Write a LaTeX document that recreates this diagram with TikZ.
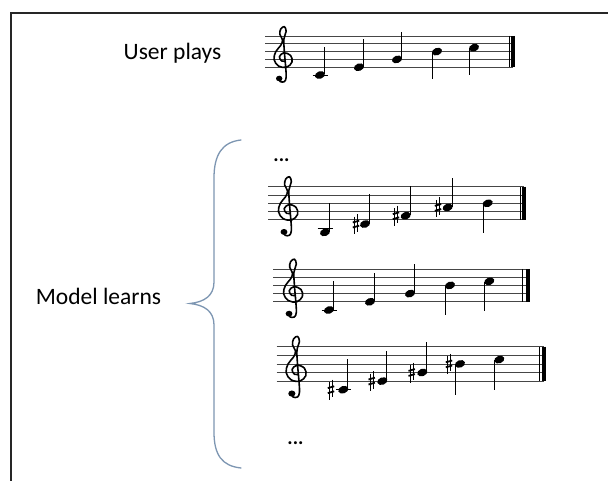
\documentclass[tikz,border=0pt]{standalone}
\usepackage{fontspec}
\setmainfont{Carlito}
\definecolor{bracecol}{RGB}{125,150,178}
\definecolor{stafflinecol}{RGB}{70,70,70}
\tikzset{
  staffline/.style={line width=0.8pt, stafflinecol},
  stemline/.style={line width=0.9pt, black},
  ledgerline/.style={line width=0.9pt, black},
  thinbar/.style={line width=0.9pt, black},
  thickbar/.style={line width=4pt, black},
  clefline/.style={line width=1.6pt, black, line cap=round, line join=round},
  sharpbar/.style={line width=1.8pt, black},
  sharpstem/.style={line width=0.6pt, black},
  txtlabel/.style={font=\fontsize{23.5}{28}\selectfont, inner sep=0pt, anchor=base},
  dotslabel/.style={font=\fontsize{20}{24}\selectfont\bfseries, inner sep=0pt, anchor=base},
  framestyle/.style={line width=1.5pt, black!85},
  bracestyle/.style={line width=1.3pt, bracecol, line cap=round},
}
% staff: top y, spacing, left x, thin bar x, thick bar x
\newcommand\stf[5]{%
  \pgfmathsetmacro\stT{#1}\pgfmathsetmacro\stS{#2}\pgfmathsetmacro\stB{#1+4*#2}%
  \pgfmathsetmacro\clx{1.15*#2}%
  \foreach \i in {0,...,4} \draw[staffline] (#3,{#1+\i*#2}) -- (#5,{#1+\i*#2});
  \draw[thinbar] (#4,#1) -- (#4,\stB);
  \draw[thickbar] (#5,#1) -- (#5,\stB);
}
\newcommand\nup[2]{%
  \fill[shift={(#1,{\stB-(#2)*\stS/2})}, rotate=20] (0,0) ellipse [x radius=5.2, y radius=3.7];
  \draw[stemline] ({#1+4.6},{\stB-(#2)*\stS/2-0.5}) -- ++(0,{-3.5*\stS});
}
\newcommand\ndown[2]{%
  \fill[shift={(#1,{\stB-(#2)*\stS/2})}, rotate=20] (0,0) ellipse [x radius=5.2, y radius=3.7];
  \draw[stemline] ({#1-4.6},{\stB-(#2)*\stS/2+0.5}) -- ++(0,{3.5*\stS});
}
\newcommand\ledg[1]{\draw[ledgerline] ({#1-7.5},{\stB+\stS}) -- ({#1+7.5},{\stB+\stS});}
\newcommand\shp[2]{%
  \begin{scope}[shift={(#1,{\stB-(#2)*\stS/2})}]
    \draw[sharpstem] (-1.6,-7.5) -- (-1.6,10);
    \draw[sharpstem] (1.6,-10) -- (1.6,7.5);
    \draw[sharpbar] (-3.2,-1.6) -- (3.2,-3.4);
    \draw[sharpbar] (-3.2,3.4) -- (3.2,1.6);
  \end{scope}
}
\newcommand\gcl[1]{%
  \begin{scope}[shift={(#1,{\stB-\stS})}, x=\clx pt, y=\stS pt]
    \draw[clefline] plot[smooth, tension=0.6] coordinates {
      (-0.45,-2.45) (-0.3,-2.85) (0.15,-2.85) (0.35,-2.3) (0.3,-1.0) (0.15,1.0)
      (0.1,2.6) (0.35,3.6) (0.15,4.2) (-0.25,3.9) (-0.35,3.2) (-0.05,2.5)
      (-0.25,1.8) (-0.8,1.0) (-1.0,0.0) (-0.5,-0.85) (0.4,-1.0) (1.0,-0.35)
      (0.85,0.5) (0.1,0.85) (-0.4,0.35) (-0.15,-0.2) (0.25,-0.2)};
    \fill (-0.42,-2.45) circle [radius=0.36];
  \end{scope}
}
\begin{document}
\begin{tikzpicture}[x=1pt, y=-1pt]
\useasboundingbox (0,0) rectangle (608,481);
\fill[white] (0,0) rectangle (608,481);
\draw[framestyle] (11,481) -- (11,13) -- (608,13);

% texts
\node[txtlabel] (user) at (172.5,60) {User plays};
\node[txtlabel] (model) at (98.5,305) {Model learns};
\node[dotslabel] (dotsA) at (281.5,162) {...};
\node[dotslabel] (dotsB) at (295.5,444) {...};

% brace
\coordinate (btop) at (241,140);
\coordinate (btip) at (190,303.5);
\coordinate (bbot) at (241,468);
\draw[bracestyle] (btop) .. controls (222,142) and (214,155) .. (214,178) -- (214,282)
  .. controls (214,296) and (204,302) .. (btip)
  .. controls (204,305) and (214,311) .. (214,325) -- (214,432)
  .. controls (214,455) and (222,466) .. (bbot);

% staff 1: User plays
\stf{36}{7.8}{265}{509.5}{513}
\gcl{283}
\ledg{320}\nup{320}{-2}
\nup{359}{0}
\nup{397}{2}
\ndown{437}{4}
\ndown{474}{5}

% staff 2
\stf{186.7}{8.3}{268}{520}{524.3}
\gcl{288}
\ledg{325}\nup{325}{-3}
\shp{356}{-1}\nup{365}{-1}
\shp{396}{1}\nup{405.7}{1}
\shp{438}{3}\nup{447.7}{3}
\ndown{487.7}{4}

% staff 3
\stf{269}{8.2}{273}{522.7}{527.5}
\gcl{293}
\ledg{329}\nup{329}{-2}
\nup{370}{0}
\nup{410}{2}
\ndown{450}{4}
\ndown{489.3}{5}

% staff 4
\stf{346.7}{8.6}{276.7}{539.3}{543.8}
\gcl{296}
\shp{331}{-2}\ledg{343.3}\nup{343.3}{-2}
\shp{371.7}{0}\nup{382.3}{0}
\shp{411.7}{2}\nup{422.3}{2}
\shp{449}{4}\ndown{460}{4}
\ndown{499.3}{5}
\end{tikzpicture}
\end{document}
